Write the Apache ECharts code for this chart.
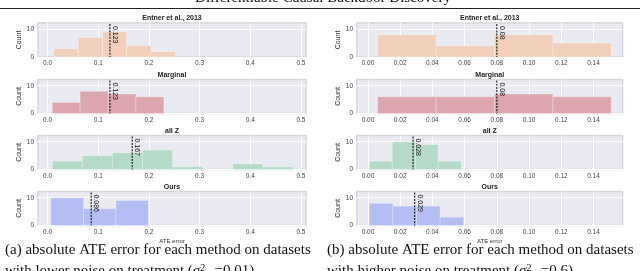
<!DOCTYPE html>
<html>
<head>
<meta charset="utf-8">
<script src="https://cdn.jsdelivr.net/npm/echarts@6/dist/echarts.min.js"></script>
<style>
html,body{margin:0;padding:0;background:#fff;}
#c{width:640px;height:271px;}
</style>
</head>
<body>
<div id="c"></div>
<script>
// ---- data ----
const methods = ['Entner et al., 2013', 'Marginal', 'all Z', 'Ours'];
const lowTicks = [0, 0.1, 0.2, 0.3, 0.4, 0.5];
const highTicks = [0, 0.02, 0.04, 0.06, 0.08, 0.10, 0.12, 0.14];
const countTicks = [0, 10];

// (a) lower noise: bin edges and counts
const lowEntnerEdges = [0.0124, 0.0604, 0.1085, 0.156, 0.204, 0.2525];
const lowEntnerCounts = [3, 7, 9, 4, 2];
const lowMarginalEdges = [0.0091, 0.0642, 0.1193, 0.1743, 0.2294];
const lowMarginalCounts = [4, 8, 7, 6];
const lowAllZEdges = [0.0091, 0.0685, 0.1279, 0.1873, 0.2467, 0.3061, 0.3655, 0.4249, 0.4844];
const lowAllZCounts = [3, 5, 6, 7, 1, 0, 2, 1];
const lowOursEdges = [0.0065, 0.0707, 0.1349, 0.199];
const lowOursCounts = [10, 6, 9];
const lowMedians = [0.123, 0.123, 0.167, 0.086];
const lowMedianLabels = ['0.123', '0.123', '0.167', '0.086'];

// (b) higher noise
const highEntnerEdges = [0.006, 0.0423, 0.0785, 0.1148, 0.151];
const highEntnerCounts = [8, 4, 8, 5];
const highMarginalEdges = [0.006, 0.0423, 0.0785, 0.1148, 0.151];
const highMarginalCounts = [6, 6, 7, 6];
const highAllZEdges = [0.0008, 0.0151, 0.0294, 0.0436, 0.0579];
const highAllZCounts = [3, 10, 9, 3];
const highOursEdges = [0.0008, 0.0155, 0.0301, 0.0448, 0.0594];
const highOursCounts = [8, 7, 7, 3];
const highMedians = [0.08, 0.08, 0.028, 0.029];
const highMedianLabels = ['0.08', '0.08', '0.028', '0.029'];

// ---- styles / layout ----
const colors = ['#F1CFBB', '#DCA6AE', '#B4DBC7', '#B5BEF2'];
const colLeft = [38, 357];
const colWidth = [268, 265.5];
const rowTop = [23, 79.5, 135.5, 191.5];
const rowH = 34;
const xRange = [[-0.019, 0.51], [-0.0068, 0.158]];
const yMax = 12.25;
const sans = 'Liberation Sans, Arial, sans-serif';
const serif = 'Liberation Serif, Times New Roman, serif';

const lowEdges = [lowEntnerEdges, lowMarginalEdges, lowAllZEdges, lowOursEdges];
const lowCounts = [lowEntnerCounts, lowMarginalCounts, lowAllZCounts, lowOursCounts];
const highEdges = [highEntnerEdges, highMarginalEdges, highAllZEdges, highOursEdges];
const highCounts = [highEntnerCounts, highMarginalCounts, highAllZCounts, highOursCounts];

const grid = [], xAxis = [], yAxis = [], series = [], graphic = [];

function binsData(edges, counts) {
  const d = [];
  for (let i = 0; i < counts.length; i++) d.push([edges[i], edges[i + 1], counts[i]]);
  return d;
}

let idx = 0;
for (let col = 0; col < 2; col++) {
  for (let row = 0; row < 4; row++) {
    const edges = col === 0 ? lowEdges[row] : highEdges[row];
    const counts = col === 0 ? lowCounts[row] : highCounts[row];
    const med = col === 0 ? lowMedians[row] : highMedians[row];
    const medLabel = col === 0 ? lowMedianLabels[row] : highMedianLabels[row];
    const ticks = col === 0 ? lowTicks : highTicks;
    const dec = col === 0 ? 1 : 2;
    grid.push({
      left: colLeft[col], top: rowTop[row], width: colWidth[col], height: rowH,
      show: true, backgroundColor: '#EAEAF2', borderColor: '#D6D6DC', borderWidth: 1.5,
      containLabel: false
    });
    xAxis.push({
      type: 'value', gridIndex: idx, min: xRange[col][0], max: xRange[col][1],
      splitNumber: col === 0 ? 5 : 8,
      axisLine: { show: false },
      axisTick: { show: false, customValues: ticks },
      axisLabel: {
        customValues: ticks,
        formatter: v => Number(v).toFixed(dec),
        fontSize: 6.5, color: '#444', margin: 3, fontFamily: sans
      },
      splitLine: { show: true, lineStyle: { color: '#FFFFFF', width: 1 } },
      name: row === 3 ? 'ATE error' : '',
      nameLocation: 'middle', nameGap: 13,
      nameTextStyle: { fontSize: 6, color: '#333', fontFamily: sans }
    });
    yAxis.push({
      type: 'value', gridIndex: idx, min: 0, max: yMax, interval: 10,
      axisLine: { show: false },
      axisTick: { show: false, customValues: countTicks },
      axisLabel: {
        customValues: countTicks,
        fontSize: 6.5, color: '#444', margin: 4, fontFamily: sans
      },
      splitLine: { show: true, lineStyle: { color: '#FFFFFF', width: 1 } },
      name: 'Count', nameLocation: 'middle', nameGap: 11, nameRotate: 90,
      nameTextStyle: { fontSize: 7, color: '#333', fontFamily: sans }
    });
    const color = colors[row];
    series.push({
      type: 'custom', xAxisIndex: idx, yAxisIndex: idx,
      encode: { x: [0, 1], y: 2 },
      data: binsData(edges, counts),
      renderItem: function (params, api) {
        const p0 = api.coord([api.value(0), api.value(2)]);
        const p1 = api.coord([api.value(1), 0]);
        return {
          type: 'rect',
          shape: { x: p0[0], y: p0[1], width: p1[0] - p0[0], height: p1[1] - p0[1] },
          style: { fill: color, stroke: 'rgba(255,255,255,0.45)', lineWidth: 0.6 }
        };
      },
      silent: true, animation: false
    });
    series.push({
      type: 'custom', xAxisIndex: idx, yAxisIndex: idx,
      encode: { x: 0, y: 1 },
      data: [[med, yMax]],
      renderItem: function (params, api) {
        const top = api.coord([api.value(0), api.value(1)]);
        const bot = api.coord([api.value(0), 0]);
        return {
          type: 'group',
          children: [
            {
              type: 'line',
              shape: { x1: top[0], y1: top[1] + 1, x2: bot[0], y2: bot[1] },
              style: { stroke: '#111', lineWidth: 1.1, lineDash: [2, 1.2] }
            },
            {
              type: 'text',
              x: top[0] + 1.5, y: top[1] + 3,
              rotation: -Math.PI / 2,
              style: {
                text: medLabel, fill: '#111', font: '7px ' + sans,
                align: 'left', verticalAlign: 'bottom'
              }
            }
          ]
        };
      },
      silent: true, animation: false
    });
    graphic.push({
      type: 'text',
      x: colLeft[col] + colWidth[col] / 2, y: rowTop[row] - 4.7,
      style: {
        text: methods[row], fill: '#222', font: 'bold 7px ' + sans,
        align: 'center', verticalAlign: 'middle'
      }
    });
    idx++;
  }
}

// page decorations: running header, rule, captions
graphic.push({
  type: 'text', x: 323, y: -1.8,
  style: { text: 'Differentiable Causal Backdoor Discovery', fill: '#111', font: '15px ' + serif, align: 'center', verticalAlign: 'middle' }
});
graphic.push({
  type: 'line', shape: { x1: 0, y1: 8.5, x2: 640, y2: 8.5 },
  style: { stroke: '#222', lineWidth: 1 }
});
graphic.push({
  type: 'text', x: 5, y: 250.5,
  style: { text: '(a) absolute ATE error for each method on datasets', fill: '#111', font: '15px ' + serif, align: 'left', verticalAlign: 'middle' }
});
graphic.push({
  type: 'text', x: 327, y: 250.5,
  style: { text: '(b) absolute ATE error for each method on datasets', fill: '#111', font: '15px ' + serif, align: 'left', verticalAlign: 'middle' }
});
const richCap = {
  i: { font: 'italic 15px ' + serif, fill: '#111' },
  sup: { font: '10px ' + serif, fill: '#111', padding: [0, 0, 7, 0] },
  sub: { font: 'italic 10px ' + serif, fill: '#111', padding: [7, 0, 0, 0] }
};
graphic.push({
  type: 'text', x: 5, y: 271.5,
  style: {
    text: 'with lower noise on treatment ({i|σ}{sup|2}{sub|T} =0.01)',
    fill: '#111', font: '15px ' + serif, align: 'left', verticalAlign: 'middle',
    rich: richCap
  }
});
graphic.push({
  type: 'text', x: 327, y: 271.5,
  style: {
    text: 'with higher noise on treatment ({i|σ}{sup|2}{sub|T} =0.6)',
    fill: '#111', font: '15px ' + serif, align: 'left', verticalAlign: 'middle',
    rich: richCap
  }
});

const chart = echarts.init(document.getElementById('c'), null, { renderer: 'canvas' });
chart.setOption({
  animation: false,
  backgroundColor: '#FFFFFF',
  grid: grid, xAxis: xAxis, yAxis: yAxis, series: series, graphic: graphic
});
</script>
</body>
</html>
